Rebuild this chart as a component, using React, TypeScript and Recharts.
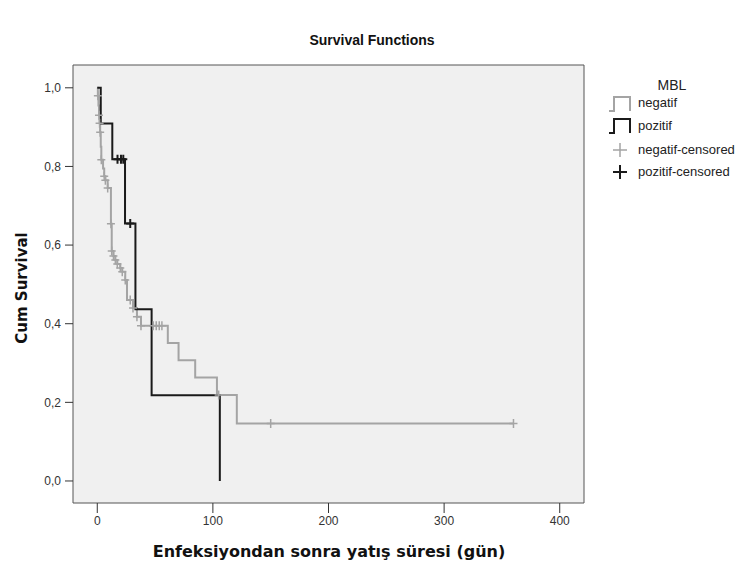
import React from 'react';
import { ComposedChart, Line, Scatter, XAxis, YAxis, ReferenceArea } from 'recharts';

// negatif group: Kaplan-Meier steps (time in days, cumulative survival)
const negTimes = [0, 0.5, 1, 1.5, 2, 2.5, 3, 3.5, 5, 6, 7, 9, 11.8, 12.5, 14, 15.6, 17.3, 19.9, 21.6, 24.2, 25.7, 30.9, 34.3, 37.8, 61, 70.3, 84.7, 103.5, 120.7, 360];
const negSurv = [1.0, 0.98, 0.955, 0.93, 0.91, 0.887, 0.85, 0.817, 0.795, 0.775, 0.765, 0.745, 0.654, 0.585, 0.572, 0.562, 0.552, 0.542, 0.532, 0.511, 0.46, 0.44, 0.418, 0.395, 0.351, 0.307, 0.263, 0.219, 0.146, 0.146];
const negCensTimes = [0.5, 1.5, 2, 2.5, 3.5, 6, 7, 9, 11.8, 12.5, 14, 15.6, 17.3, 19.9, 21.6, 24.2, 28.5, 30.9, 34.3, 37.8, 48.4, 51, 53.6, 55.9, 105, 150, 360];
const negCensSurv = [0.98, 0.93, 0.91, 0.887, 0.817, 0.775, 0.765, 0.745, 0.654, 0.585, 0.572, 0.562, 0.552, 0.542, 0.532, 0.511, 0.46, 0.44, 0.418, 0.395, 0.395, 0.395, 0.395, 0.395, 0.219, 0.146, 0.146];

// pozitif group
const posTimes = [0, 3, 13, 24, 33, 47, 106];
const posSurv = [1.0, 0.909, 0.818, 0.655, 0.437, 0.218, 0];
const posCensTimes = [17.5, 20.5, 22.5, 28.5];
const posCensSurv = [0.818, 0.818, 0.818, 0.655];

const xTicks = [0, 100, 200, 300, 400];
const yTicks = [0, 0.2, 0.4, 0.6, 0.8, 1.0];

const title = 'Survival Functions';
const xLabel = 'Enfeksiyondan sonra yatış süresi (gün)';
const yLabel = 'Cum Survival';
const legendTitle = 'MBL';
const legendNames = ['negatif', 'pozitif', 'negatif-censored', 'pozitif-censored'];

const zip = (ts: number[], ss: number[]) => ts.map((t, i) => ({ t, s: ss[i] }));
const negData = zip(negTimes, negSurv);
const negCens = zip(negCensTimes, negCensSurv);
const posData = zip(posTimes, posSurv);
const posCens = zip(posCensTimes, posCensSurv);

const GRAY = '#a4a4a4';
const BLACK = '#1a1a1a';
const FONT = "Arial, 'Liberation Sans', sans-serif";
const BOLDFONT = "'DejaVu Sans', Verdana, sans-serif";

const plus = (color: string, w: number) => (props: any) => {
  const { cx, cy } = props;
  if (cx == null || cy == null) return <g />;
  return (
    <path d={`M${cx - 4},${cy}H${cx + 4}M${cx},${cy - 4.5}V${cy + 4.5}`} stroke={color} strokeWidth={w} fill="none" />
  );
};

export default function App() {
  return (
    <div style={{ position: 'absolute', left: 0, top: 0, width: 745, height: 575, background: '#fff' }}>
      <ComposedChart width={745} height={575} margin={{ top: 65, right: 161, bottom: 32, left: 0 }}>
        <XAxis
          type="number"
          dataKey="t"
          domain={[-21, 421]}
          ticks={xTicks}
          allowDataOverflow
          axisLine={false}
          tickSize={10}
          tickMargin={3}
          height={40}
          tickLine={{ stroke: '#333' }}
          tick={{ fill: '#333', fontSize: 12, fontFamily: FONT }}
        />
        <YAxis
          type="number"
          dataKey="s"
          domain={[-0.056, 1.058]}
          ticks={yTicks}
          allowDataOverflow
          axisLine={false}
          width={73}
          tickSize={8}
          tickMargin={4}
          tickLine={{ stroke: '#333' }}
          tickFormatter={(v: number) => v.toFixed(1).replace('.', ',')}
          tick={{ fill: '#333', fontSize: 12, fontFamily: FONT }}
        />
        <ReferenceArea x1={-21} x2={421} y1={-0.056} y2={1.058} fill="#f0f0f0" fillOpacity={1} stroke="#555" strokeWidth={1} />
        <Line data={negData} dataKey="s" type="stepAfter" stroke={GRAY} strokeWidth={2} dot={false} isAnimationActive={false} />
        <Line data={posData} dataKey="s" type="stepAfter" stroke={BLACK} strokeWidth={2} dot={false} isAnimationActive={false} />
        <Scatter data={negCens} dataKey="s" shape={plus(GRAY, 1.5)} isAnimationActive={false} />
        <Scatter data={posCens} dataKey="s" shape={plus(BLACK, 2)} isAnimationActive={false} />
      </ComposedChart>
      <svg width={745} height={575} style={{ position: 'absolute', left: 0, top: 0, pointerEvents: 'none' }}>
        <text x={372} y={45} textAnchor="middle" fontFamily={FONT} fontWeight="bold" fontSize={14} fill="#111">{title}</text>
        <text x={329} y={557} textAnchor="middle" fontFamily={BOLDFONT} fontWeight="bold" fontSize={16} fill="#111">{xLabel}</text>
        <text x={0} y={0} transform="translate(27,288) rotate(-90)" textAnchor="middle" fontFamily={BOLDFONT} fontWeight="bold" fontSize={15} fill="#111">{yLabel}</text>
        <text x={672} y={90} textAnchor="middle" fontFamily={FONT} fontSize={14} fill="#222">{legendTitle}</text>
        <path d="M609,111H614V97H630V111" stroke={GRAY} strokeWidth={2} fill="none" />
        <text x={638} y={107} fontFamily={FONT} fontSize={13} fill="#222">{legendNames[0]}</text>
        <path d="M609,133H614V119H630V133" stroke={BLACK} strokeWidth={2} fill="none" />
        <text x={638} y={130} fontFamily={FONT} fontSize={13} fill="#222">{legendNames[1]}</text>
        <path d="M613,150H627M620,143V157" stroke={GRAY} strokeWidth={1.5} fill="none" />
        <text x={638} y={154} fontFamily={FONT} fontSize={13} fill="#222">{legendNames[2]}</text>
        <path d="M613,172H627M620,165V179" stroke={BLACK} strokeWidth={2} fill="none" />
        <text x={638} y={176} fontFamily={FONT} fontSize={13} fill="#222">{legendNames[3]}</text>
      </svg>
    </div>
  );
}
